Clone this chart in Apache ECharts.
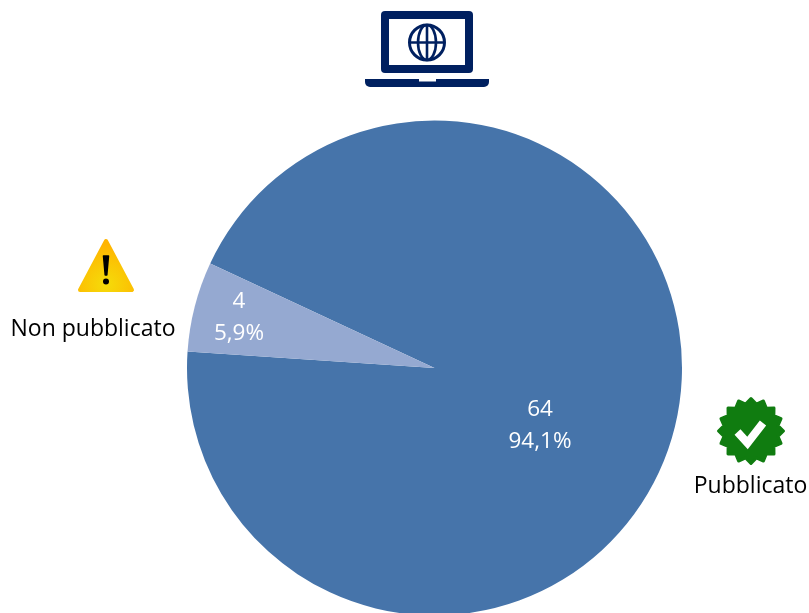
<!DOCTYPE html>
<html style="height: 100%">
<head>
    <title>Pubblicato</title>
    <meta charset="utf-8">
    <style>
    html, body { margin: 0; background: #fff; overflow: hidden; }
    #container { width: 809px; height: 613px; }
    </style>
</head>
<body>
    <div id="container"></div>
    <script src="https://cdn.jsdelivr.net/npm/echarts@6/dist/echarts.min.js"></script>
    <script>
    var categories = ['Pubblicato', 'Non pubblicato'];
    var counts = [64, 4];
    var shares = ['94,1%', '5,9%'];
    var sliceColors = ['#4674AA', '#95A9D1'];

    var FONT = '"Open Sans", "Noto Sans", sans-serif';
    var NAVY = '#002060';

    var pieData = categories.map(function (name, i) {
        return { name: name, value: counts[i], share: shares[i], itemStyle: { color: sliceColors[i] } };
    });

    // label centres, the picture does not put them at the ring middle
    var labelSpots = [[540, 426], [239, 318]];

    // scalloped badge outline
    function badgePoints(cx, cy, r1, r2, n) {
        var pts = [];
        for (var i = 0; i < n; i++) {
            var a0 = i / n * Math.PI * 2 - Math.PI / 2;
            var a1 = (i + 0.5) / n * Math.PI * 2 - Math.PI / 2;
            pts.push([cx + r1 * Math.cos(a0), cy + r1 * Math.sin(a0)]);
            pts.push([cx + r2 * Math.cos(a1), cy + r2 * Math.sin(a1)]);
        }
        return pts;
    }

    var laptop = [
        { type: 'rect', shape: { x: 381, y: 11, width: 92, height: 62, r: 4 }, style: { fill: NAVY } },
        { type: 'rect', shape: { x: 389, y: 19, width: 76, height: 46 }, style: { fill: '#fff' } },
        { type: 'rect', shape: { x: 365, y: 79, width: 124, height: 8, r: [0, 0, 5, 5] }, style: { fill: NAVY } },
        { type: 'rect', shape: { x: 419, y: 79, width: 17, height: 2.5 }, style: { fill: '#fff' } },
        { type: 'circle', shape: { cx: 427, cy: 42.5, r: 17.5 }, style: { fill: 'none', stroke: NAVY, lineWidth: 3 } },
        { type: 'ellipse', shape: { cx: 427, cy: 42.5, rx: 9, ry: 17.5 }, style: { fill: 'none', stroke: NAVY, lineWidth: 2.6 } },
        { type: 'line', shape: { x1: 427, y1: 25, x2: 427, y2: 60 }, style: { stroke: NAVY, lineWidth: 2.6 } },
        { type: 'line', shape: { x1: 409.5, y1: 42.5, x2: 444.5, y2: 42.5 }, style: { stroke: NAVY, lineWidth: 2.6 } }
    ];

    var warnFill = new echarts.graphic.RadialGradient(0.5, 0.85, 0.75, [
        { offset: 0, color: '#F5DC0A' },
        { offset: 1, color: '#FFB400' }
    ]);
    var warning = [
        {
            type: 'polygon',
            shape: { points: [[106, 241], [132, 290], [80, 290]] },
            style: { fill: warnFill, stroke: warnFill, lineWidth: 4, lineJoin: 'round' }
        },
        {
            type: 'polygon',
            shape: { points: [[103.5, 256], [108.5, 256], [106.8, 275], [105.2, 275]] },
            style: { fill: '#000', stroke: '#000', lineWidth: 1.5, lineJoin: 'round' }
        },
        { type: 'circle', shape: { cx: 106, cy: 281.5, r: 3 }, style: { fill: '#000' } }
    ];

    var badge = [
        {
            type: 'polygon',
            shape: { points: badgePoints(751, 431, 32.5, 27.5, 16) },
            style: { fill: '#107C10', stroke: '#107C10', lineWidth: 3, lineJoin: 'round' }
        },
        {
            type: 'polyline',
            shape: { points: [[737.5, 432], [747.5, 443], [763, 423]] },
            style: { fill: 'none', stroke: '#fff', lineWidth: 8 }
        }
    ];

    var nameSpots = [[750.5, 486], [93, 329]];
    var nameLabels = categories.map(function (name, i) {
        return {
            type: 'text',
            x: nameSpots[i][0],
            y: nameSpots[i][1],
            style: { text: name, fill: '#000', font: '23px ' + FONT, align: 'center', verticalAlign: 'middle' }
        };
    });

    var dom = document.getElementById('container');
    var myChart = echarts.init(dom, null, { renderer: 'canvas' });

    var option = {
        animation: false,
        backgroundColor: '#fff',
        series: [{
            type: 'pie',
            center: [434.5, 368],
            radius: [0, 247.5],
            startAngle: 155,
            clockwise: true,
            silent: true,
            data: pieData,
            label: {
                position: 'inside',
                color: '#fff',
                fontFamily: FONT,
                fontSize: 22.5,
                lineHeight: 32,
                align: 'center',
                verticalAlign: 'middle',
                formatter: function (p) { return p.value + '\n' + p.data.share; }
            },
            labelLine: { show: false },
            labelLayout: function (p) {
                return { x: labelSpots[p.dataIndex][0], y: labelSpots[p.dataIndex][1], align: 'center', verticalAlign: 'middle' };
            }
        }],
        graphic: { elements: laptop.concat(warning, badge, nameLabels) }
    };
    myChart.setOption(option);
    </script>
</body>
</html>
